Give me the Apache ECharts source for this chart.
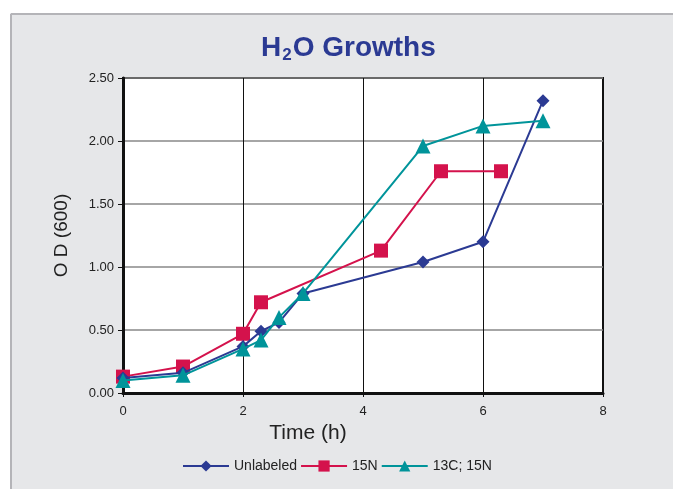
<!DOCTYPE html>
<html><head><meta charset="utf-8">
<script src="https://cdn.jsdelivr.net/npm/echarts@6/dist/echarts.min.js"></script>
<style>html,body{margin:0;padding:0;background:#fff}#c{width:673px;height:489px}</style>
</head><body><div id="c"></div>
<script>
const unlabeledX = [0, 1, 2, 2.3, 2.6, 3, 5, 6, 7];
const unlabeledY = [0.12, 0.16, 0.37, 0.49, 0.56, 0.79, 1.04, 1.20, 2.32];
const n15X = [0, 1, 2, 2.3, 4.3, 5.3, 6.3];
const n15Y = [0.13, 0.21, 0.47, 0.72, 1.13, 1.76, 1.76];
const c13X = [0, 1, 2, 2.3, 2.6, 3, 5, 6, 7];
const c13Y = [0.10, 0.14, 0.35, 0.42, 0.60, 0.79, 1.96, 2.12, 2.16];
const seriesNames = ['Unlabeled', '15N', '13C; 15N'];
const yTicks = [0, 0.5, 1, 1.5, 2, 2.5];
const xTicks = [0, 2, 4, 6, 8];

const pairs = (xs, ys) => xs.map((x, i) => [x, ys[i]]);
const chart = echarts.init(document.getElementById('c'));
const font = 'Liberation Sans, Arial, sans-serif';
chart.setOption({
  backgroundColor: '#fff',
  animation: false,
  graphic: [
    {type: 'rect', z: -10, shape: {x: 10, y: 13, width: 670, height: 480}, style: {fill: '#e6e7e9'}},
    {type: 'line', z: -9, shape: {x1: 11, y1: 14, x2: 673, y2: 14}, style: {stroke: '#b4b4b8', lineWidth: 2}},
    {type: 'line', z: -9, shape: {x1: 11, y1: 14, x2: 11, y2: 489}, style: {stroke: '#b4b4b8', lineWidth: 2}}
  ],
  title: {
    text: '{a|H}{b|2}{a|O Growths}',
    left: 256, top: 27,
    textStyle: {
      rich: {
        a: {fontSize: 28, fontWeight: 'bold', color: '#2b3a93', fontFamily: font, lineHeight: 32},
        b: {fontSize: 17, fontWeight: 'bold', color: '#2b3a93', fontFamily: font, padding: [15, 1, 0, 1], lineHeight: 32}
      }
    }
  },
  legend: {
    bottom: 11, left: 177,
    itemWidth: 46, itemHeight: 14, itemGap: 3,
    textStyle: {fontSize: 14, color: '#222', fontFamily: font},
    data: seriesNames
  },
  grid: {left: 123, right: 70, top: 78, bottom: 96, show: true, backgroundColor: '#fff', borderColor: '#111', borderWidth: 2},
  xAxis: {
    type: 'value', min: xTicks[0], max: xTicks[xTicks.length - 1], interval: 2,
    name: 'Time (h)', nameLocation: 'middle', nameGap: 26,
    nameTextStyle: {fontSize: 21, color: '#222', fontFamily: font, padding: [0, 0, 0, -110]},
    axisLine: {lineStyle: {color: '#111', width: 3}},
    axisTick: {show: true, length: 4, lineStyle: {color: '#111'}},
    axisLabel: {fontSize: 13, color: '#222', margin: 12, fontFamily: font},
    splitLine: {show: true, lineStyle: {color: '#111', width: 1}}
  },
  yAxis: {
    type: 'value', min: yTicks[0], max: yTicks[yTicks.length - 1], interval: 0.5,
    name: 'O D (600)', nameLocation: 'middle', nameGap: 52,
    nameTextStyle: {fontSize: 19, color: '#222', fontFamily: font},
    axisLine: {show: true, lineStyle: {color: '#111', width: 3}},
    axisTick: {show: true, length: 5, lineStyle: {color: '#111'}},
    axisLabel: {fontSize: 13, color: '#222', margin: 9, fontFamily: font, formatter: v => v.toFixed(2)},
    splitLine: {show: true, lineStyle: {color: '#888', width: 1.5}}
  },
  series: [
    {name: seriesNames[0], type: 'line', data: pairs(unlabeledX, unlabeledY), symbol: 'diamond', symbolSize: 13,
     itemStyle: {color: '#2b3a93'}, lineStyle: {color: '#2b3a93', width: 2}, z: 3},
    {name: seriesNames[1], type: 'line', data: pairs(n15X, n15Y), symbol: 'rect', symbolSize: 14,
     itemStyle: {color: '#d4124c'}, lineStyle: {color: '#d4124c', width: 2}, z: 2},
    {name: seriesNames[2], type: 'line', data: pairs(c13X, c13Y), symbol: 'triangle', symbolSize: 15,
     itemStyle: {color: '#00949a'}, lineStyle: {color: '#00949a', width: 2}, z: 4}
  ]
});
</script></body></html>
